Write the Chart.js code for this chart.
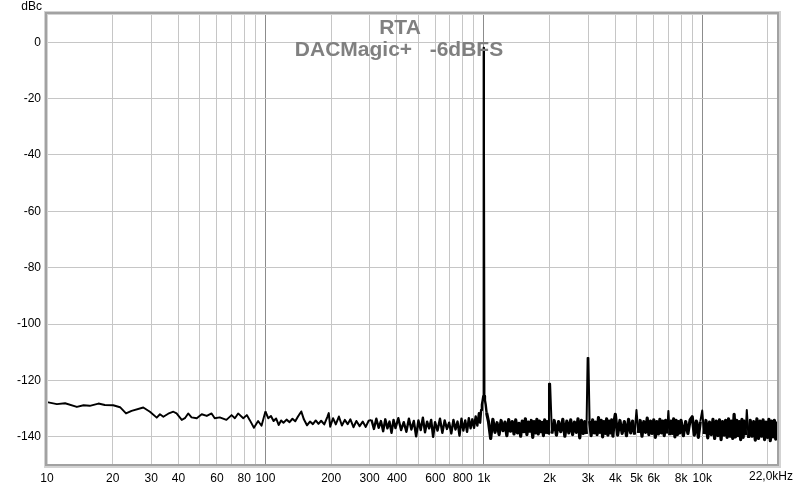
<!DOCTYPE html>
<html>
<head>
<meta charset="utf-8">
<script src="https://cdn.jsdelivr.net/npm/chart.js@4.4.1/dist/chart.umd.min.js"></script>
<style>
  html, body { margin: 0; padding: 0; background: #fff; }
  #wrap { width: 800px; height: 487px; position: relative; }
</style>
</head>
<body>
<div id="wrap"><canvas id="rta" width="800" height="487"></canvas></div>
<script>
// RTA spectrum, DACMagic+ at -6dBFS, levels in dBc

// 10 .. 100 Hz : smooth part of the floor
const freqLow = [10, 11.1, 12.1, 13.7, 14.7, 15.7, 17.2, 18.4, 20.1, 21.6, 23.0, 24.4, 27.6, 29.6,
  31.8, 32.9, 34.1, 35.9, 37.9, 39.2, 41.4, 42.8, 44.3, 45.9, 48.5, 51.1, 53.9, 56.7, 58.6, 61.8,
  66.3, 70.0, 72.5, 75.0, 79.2, 82.2, 84.7, 88.6, 92.6, 96.0];
const levelLow = [-127.7, -128.4, -128.1, -129.4, -128.8, -129.0, -128.2, -128.7, -128.8, -129.5,
  -131.7, -130.8, -129.6, -131.1, -133.2, -132.0, -132.9, -131.8, -131.1, -131.7, -134.0, -133.4,
  -131.7, -133.1, -133.4, -132.0, -132.6, -131.7, -133.4, -133.1, -134.0, -132.3, -133.4, -131.7,
  -133.4, -132.3, -134.0, -136.8, -134.4, -136.1];

// 100 .. 950 Hz
const freqMid = [100, 103, 106, 109, 112, 115, 118, 121, 125, 129, 133, 137, 141, 146, 150, 155, 160,
  165, 170, 175, 180, 186, 192, 195, 198, 204, 210, 217, 224, 231, 238, 245, 253, 261, 270, 279, 288,
  297, 306, 314, 322, 330, 338, 346, 354, 362, 370, 378, 386, 394, 406, 418, 430, 442, 454, 466, 478,
  490, 502, 514, 526, 538, 550, 562, 574, 586, 598, 614, 630, 646, 662, 678, 694, 710, 726, 742, 758,
  774, 790, 806, 822, 838, 854, 870, 886, 902, 918, 934, 950];
const levelMid = [-131.0, -133.4, -132.6, -134.4, -133.5, -135.8, -134.2, -135.0, -133.9, -134.8,
  -133.6, -134.5, -132.8, -131.0, -133.8, -135.9, -134.6, -135.5, -134.2, -135.4,
  -134.3, -135.6, -133.0, -131.6, -136.4, -133.4, -135.6, -132.8, -136.0, -134.0,
  -135.5, -133.8, -136.6, -134.4, -136.2, -134.6, -136.5, -134.3,
  -134.0, -137.2, -133.6, -136.8, -134.4, -138.0, -133.8, -137.0, -134.6, -138.6,
  -134.0, -136.9, -133.4, -137.6, -134.8, -138.2, -133.6, -137.4, -134.4, -139.8,
  -134.2, -137.6, -133.2, -138.4, -134.6, -137.0, -134.0, -140.0, -134.8, -137.8,
  -133.6, -138.6, -134.2, -137.2, -135.0, -138.8, -134.0, -137.4, -134.6, -139.6,
  -133.6, -137.8, -134.2, -138.2, -133.4, -137.0, -133.8, -136.8, -132.8, -136.0, -131.6];

// 1 kHz carrier
const freqPeak = [962, 972, 980, 988, 995, 999, 1000, 1001, 1005, 1012, 1020, 1030];
const levelPeak = [-135.0, -130.5, -128.6, -127.0, -125.5, -40.0, -2.0, -40.0, -125.5, -127.0, -128.6, -131.5];

// 1 kHz .. 22 kHz, harmonics at 2k and 3k
const freqHigh = [1050, 1075, 1100, 1125, 1150, 1175, 1200, 1225, 1250, 1275, 1300, 1325, 1350, 1375,
  1400, 1425, 1450, 1475, 1500, 1525, 1550, 1575, 1600, 1625, 1650, 1675, 1700, 1725, 1750, 1775,
  1800, 1825, 1850, 1875, 1900, 1925, 1950, 1975,
  1988, 2012,
  2050, 2100, 2150, 2200, 2250, 2300, 2350, 2400, 2450, 2500, 2550, 2600, 2650, 2700, 2750, 2800,
  2850, 2900, 2950,
  2988, 3012,
  3050, 3100, 3150, 3200, 3250, 3300, 3350, 3400, 3450, 3500, 3550, 3600, 3650, 3700, 3750, 3800,
  3850, 3900, 3950,
  4000,
  4100, 4200, 4300, 4400, 4500, 4600, 4700, 4800, 4900,
  5000,
  5100, 5200, 5300, 5400, 5500, 5600, 5700, 5800, 5900, 6000, 6100, 6200, 6300, 6400, 6500, 6600,
  6700, 6800, 6900,
  7000,
  7100, 7200, 7300, 7400, 7500, 7600, 7700, 7800, 7900,
  8000, 8200, 8400, 8600, 8800,
  9000,
  9200, 9400, 9600, 9800,
  10000,
  10200, 10400, 10600, 10800, 11000, 11200, 11400, 11600, 11800, 12000, 12200, 12400, 12600, 12800,
  13000, 13200, 13400, 13600, 13800,
  14000,
  14200, 14400, 14600, 14800, 15000, 15200, 15400, 15600, 15800,
  16000,
  16300, 16600, 16900, 17200, 17500, 17800, 18100, 18400, 18700, 19000, 19300, 19600, 19900, 20200,
  20500, 20800, 21100, 21400, 21700,
  22000];
const levelHigh = [-134.5, -140.6, -133.8, -138.4, -135.0, -139.2, -134.2, -137.8, -134.8, -139.6,
  -133.9, -138.0, -134.6, -139.0, -134.0, -138.6, -135.2, -139.8, -134.4, -138.2,
  -133.6, -139.2, -134.8, -138.0, -134.2, -140.2, -134.6, -138.6, -133.8, -139.0,
  -134.4, -138.2, -134.9, -139.6, -134.0, -138.4, -134.6, -139.0,
  -121.2, -121.2,
  -138.8, -134.2, -139.4, -134.6, -138.2, -133.8, -139.8, -134.4, -138.6, -134.0,
  -139.2, -134.8, -138.4, -133.6, -140.4, -134.2, -138.8, -134.6, -139.0,
  -112.0, -112.0,
  -134.4, -139.6, -134.0, -138.6, -134.8, -139.2, -133.2, -138.4, -134.2, -140.0,
  -134.6, -138.8, -133.6, -139.4, -134.4, -138.6, -134.0, -139.8, -134.6,
  -132.0,
  -139.4, -134.2, -138.8, -134.6, -139.6, -133.8, -138.6, -134.4, -139.2,
  -130.5,
  -138.6, -134.2, -139.8, -134.6, -138.4, -133.4, -139.2, -134.4, -138.8, -134.0,
  -140.2, -134.6, -139.0, -133.8, -138.6, -134.4, -139.6, -134.2, -138.8,
  -130.8,
  -139.4, -134.4, -138.8, -133.6, -140.0, -134.2, -139.2, -134.6, -138.6,
  -134.2, -139.6, -134.6, -138.8, -134.0,
  -132.9,
  -139.4, -134.4, -140.2, -134.6,
  -130.7,
  -139.0, -134.2, -140.4, -134.8, -139.2, -133.8, -140.6, -134.4, -139.6, -134.0,
  -141.0, -134.6, -139.4, -134.2, -140.2, -133.6, -139.8, -134.4, -140.6,
  -132.0,
  -140.0, -134.2, -139.6, -134.6, -141.0, -133.8, -140.2, -134.4, -139.4,
  -130.5,
  -140.4, -134.2, -139.8, -134.6, -141.2, -133.6, -140.6, -134.4, -139.8, -134.0,
  -141.0, -134.8, -140.2, -133.8, -141.4, -134.4, -140.0, -134.2, -140.8,
  -134.6];

// axes
const xGridValues = [10, 20, 30, 40, 50, 60, 70, 80, 90, 100, 200, 300, 400, 500, 600, 700, 800, 900,
  1000, 2000, 3000, 4000, 5000, 6000, 7000, 8000, 9000, 10000, 20000];
const xDecadeValues = [100, 1000, 10000];
const xLabelValues = [10, 20, 30, 40, 60, 80, 100, 200, 300, 400, 600, 800, 1000, 2000, 3000, 4000,
  5000, 6000, 8000, 10000];
const xLabelTexts = ['10', '20', '30', '40', '60', '80', '100', '200', '300', '400', '600', '800',
  '1k', '2k', '3k', '4k', '5k', '6k', '8k', '10k'];
const yTickValues = [0, -20, -40, -60, -80, -100, -120, -140];

const titleLines = ['RTA', 'DACMagic+   -6dBFS'];
const yUnit = 'dBc';
const xEndLabel = '22,0kHz';

const FONT = '"Liberation Sans", Arial, sans-serif';

function buildPoints() {
  const f = freqLow.concat(freqMid, freqPeak, freqHigh);
  const l = levelLow.concat(levelMid, levelPeak, levelHigh);
  return f.map(function (v, i) { return { x: v, y: l[i] }; });
}

// the FFT floor gets denser with frequency, so the pen gets wider there;
// tones (anything poking above the floor) keep a thin pen
function segmentWidth(ctx) {
  const f = ctx.p0.parsed.x;
  const top = Math.max(ctx.p0.parsed.y, ctx.p1.parsed.y);
  if (f >= 1030) return top > -131.5 ? 2.0 : 3.2;
  if (f >= 300) return 2.4;
  if (f >= 100) return 2.0;
  return 1.9;
}

const framePlugin = {
  id: 'frame',
  afterDraw: function (chart) {
    const ctx = chart.ctx;
    const a = chart.chartArea;
    ctx.save();
    // soft outer edge
    ctx.strokeStyle = '#d3d3d3';
    ctx.lineWidth = 4;
    ctx.strokeRect(a.left - 1, a.top - 1, a.right - a.left + 3, a.bottom - a.top + 2);
    // darker inner line
    ctx.strokeStyle = '#a2a2a2';
    ctx.lineWidth = 2;
    ctx.strokeRect(a.left - 1, a.top - 1, a.right - a.left + 2, a.bottom - a.top + 1);

    // title over the trace
    ctx.fillStyle = '#808080';
    ctx.font = 'bold 21px ' + FONT;
    ctx.textAlign = 'center';
    ctx.textBaseline = 'alphabetic';
    ctx.fillText(titleLines[0], 400, 34);
    ctx.fillText(titleLines[1], 399, 56);

    ctx.fillStyle = '#000';
    ctx.font = '12px ' + FONT;
    ctx.textAlign = 'right';
    ctx.fillText(yUnit, 42, 10);

    ctx.textAlign = 'center';
    ctx.textBaseline = 'top';
    ctx.fillText(xEndLabel, 771, a.bottom + 6);
    ctx.restore();
  }
};

new Chart(document.getElementById('rta'), {
  type: 'line',
  data: {
    datasets: [{
      data: buildPoints(),
      borderColor: '#000',
      borderWidth: 2,
      borderJoinStyle: 'round',
      segment: { borderWidth: segmentWidth },
      pointRadius: 0,
      tension: 0,
      fill: false
    }]
  },
  options: {
    responsive: false,
    animation: false,
    devicePixelRatio: 1,
    layout: { padding: { left: 0, right: 23, top: 14, bottom: 0 } },
    plugins: {
      legend: { display: false },
      tooltip: { enabled: false }
    },
    scales: {
      x: {
        type: 'logarithmic',
        min: 10,
        max: 22000,
        afterBuildTicks: function (scale) {
          scale.ticks = xGridValues.map(function (v) { return { value: v }; });
        },
        afterFit: function (scale) { scale.height = 22; },
        border: { display: false },
        grid: {
          drawTicks: false,
          lineWidth: 1,
          color: function (ctx) {
            const v = ctx.tick ? ctx.tick.value : 0;
            return xDecadeValues.indexOf(v) >= 0 ? '#8c8c8c' : '#c6c6c6';
          }
        },
        ticks: {
          autoSkip: false,
          maxRotation: 0,
          minRotation: 0,
          padding: 6,
          color: '#000',
          font: { family: FONT, size: 12 },
          callback: function (value) {
            const i = xLabelValues.indexOf(value);
            return i >= 0 ? xLabelTexts[i] : '';
          }
        }
      },
      y: {
        type: 'linear',
        min: -150,
        max: 10,
        afterBuildTicks: function (scale) {
          scale.ticks = yTickValues.map(function (v) { return { value: v }; });
        },
        afterFit: function (scale) { scale.width = 47; },
        border: { display: false },
        grid: { drawTicks: false, color: '#c6c6c6', lineWidth: 1 },
        ticks: {
          padding: 6,
          color: '#000',
          font: { family: FONT, size: 12 },
          callback: function (value) { return String(value); }
        }
      }
    }
  },
  plugins: [framePlugin]
});
</script>
</body>
</html>
